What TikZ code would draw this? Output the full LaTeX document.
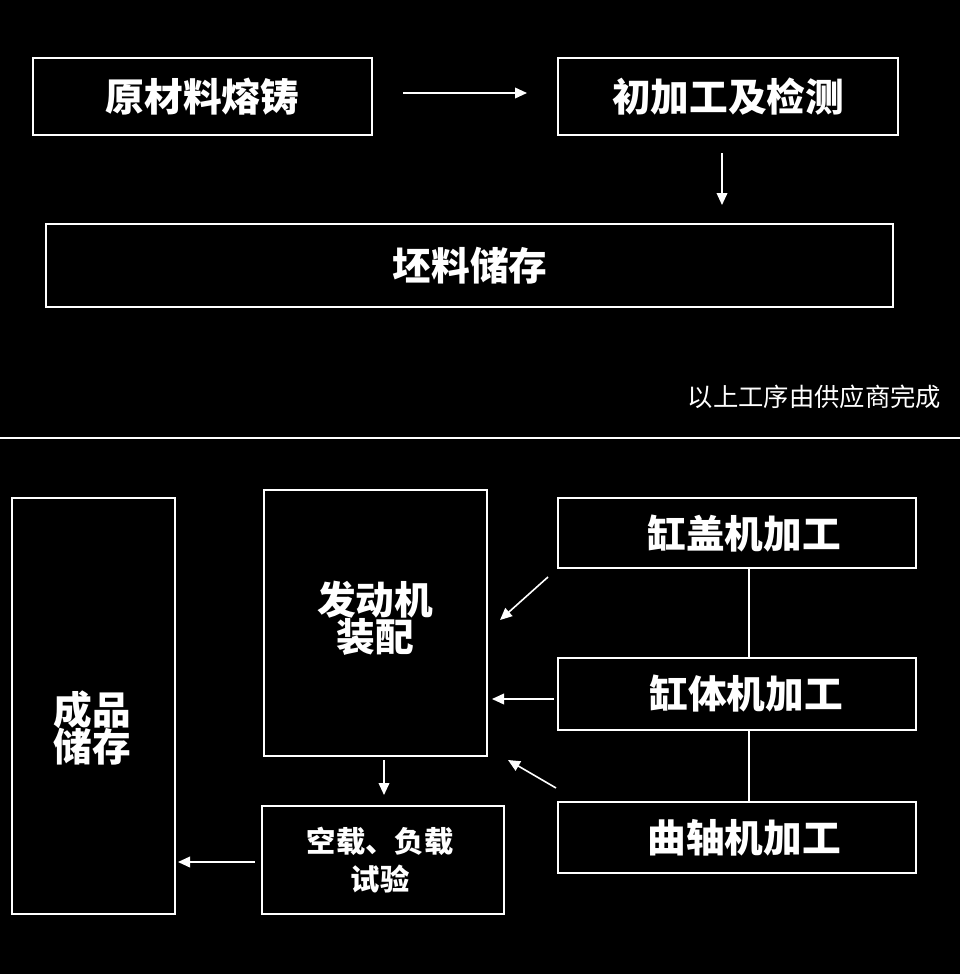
\documentclass[tikz,border=0pt]{standalone}
\usepackage{fontspec}
\newfontfamily\cjk{Noto Sans CJK SC}
\usetikzlibrary{arrows.meta}
\begin{document}
\begin{tikzpicture}[x=0.75pt,y=-0.75pt,
  box/.style={draw=white,line width=1.6pt,fill=black},
  big/.style={text=white,font=\cjk\bfseries\fontsize{29}{32}\selectfont,align=center},
  mid/.style={text=white,font=\cjk\bfseries\fontsize{22}{27}\selectfont,align=center},
  arr/.style={draw=white,line width=1.2pt,-{Triangle[length=9pt,width=8pt]}},
  lnk/.style={draw=white,line width=1.6pt}]
\fill[black] (0,0) rectangle (960,974);
\useasboundingbox (0,0) rectangle (960,974);
\draw[box] (33,58) rectangle (372,135);
\node[big] (a) at (202.5,97) {原材料熔铸};
\draw[box] (558,58) rectangle (898,135);
\node[big] (b) at (728,97) {初加工及检测};
\draw[box] (46,224) rectangle (893,307);
\node[big] (c) at (470,266) {坯料储存};
\node[text=white,font=\cjk\fontsize{19}{22}\selectfont,anchor=east] (note) at (946,397) {以上工序由供应商完成};
\draw[white,line width=1.5pt] (0,438) -- (960,438);
\draw[box] (12,498) rectangle (175,914);
\node[big] (d) at (92,728) {成品\\[-4pt]储存};
\draw[box] (264,490) rectangle (487,756);
\node[big] (e) at (375,618) {发动机\\[-4pt]装配};
\draw[box] (558,498) rectangle (916,568);
\node[big] (f) at (744,534) {缸盖机加工};
\draw[box] (558,658) rectangle (916,730);
\node[big] (g) at (746,694) {缸体机加工};
\draw[box] (558,802) rectangle (916,873);
\node[big] (h) at (744,838) {曲轴机加工};
\draw[box] (262,806) rectangle (504,914);
\node[mid] (t) at (380,860) {空载、负载\\[2pt]试验};
\coordinate (f1) at (749,568); \coordinate (g1) at (749,658);
\coordinate (g2) at (749,730); \coordinate (h1) at (749,802);
\draw[lnk] (f1) -- (g1); \draw[lnk] (g2) -- (h1);
\coordinate (p1) at (403,93); \coordinate (p2) at (527,93);
\draw[arr] (p1) -- (p2);
\coordinate (q1) at (722,153); \coordinate (q2) at (722,205);
\draw[arr] (q1) -- (q2);
\coordinate (r1) at (548,577); \coordinate (r2) at (500,620);
\draw[arr] (r1) -- (r2);
\coordinate (s1) at (554,699); \coordinate (s2) at (492,699);
\draw[arr] (s1) -- (s2);
\coordinate (u1) at (556,788); \coordinate (u2) at (508,760);
\draw[arr] (u1) -- (u2);
\coordinate (v1) at (384,760); \coordinate (v2) at (384,795);
\draw[arr] (v1) -- (v2);
\coordinate (w1) at (255,862); \coordinate (w2) at (178,862);
\draw[arr] (w1) -- (w2);
\end{tikzpicture}
\end{document}
